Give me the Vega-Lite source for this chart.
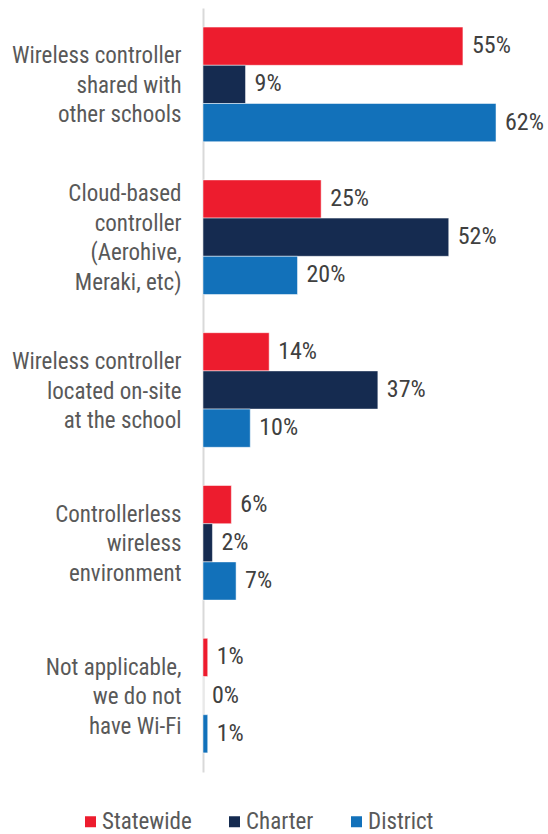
{
  "$schema": "https://vega.github.io/schema/vega-lite/v6.json",
  "autosize": "none",
  "width": 345,
  "height": 764,
  "padding": {"left": 203, "top": 8, "right": 0, "bottom": 62},
  "background": "white",
  "config": {"view": {"stroke": null}, "font": "Roboto Condensed, Roboto"},
  "data": {"values": [
    {"cat": "Wireless controller|shared with|other schools", "series": "Statewide", "value": 55},
    {"cat": "Wireless controller|shared with|other schools", "series": "Charter", "value": 9},
    {"cat": "Wireless controller|shared with|other schools", "series": "District", "value": 62},
    {"cat": "Cloud-based|controller|(Aerohive,|Meraki, etc)", "series": "Statewide", "value": 25},
    {"cat": "Cloud-based|controller|(Aerohive,|Meraki, etc)", "series": "Charter", "value": 52},
    {"cat": "Cloud-based|controller|(Aerohive,|Meraki, etc)", "series": "District", "value": 20},
    {"cat": "Wireless controller|located on-site|at the school", "series": "Statewide", "value": 14},
    {"cat": "Wireless controller|located on-site|at the school", "series": "Charter", "value": 37},
    {"cat": "Wireless controller|located on-site|at the school", "series": "District", "value": 10},
    {"cat": "Controllerless|wireless|environment", "series": "Statewide", "value": 6},
    {"cat": "Controllerless|wireless|environment", "series": "Charter", "value": 2},
    {"cat": "Controllerless|wireless|environment", "series": "District", "value": 7},
    {"cat": "Not applicable,|we do not|have Wi-Fi", "series": "Statewide", "value": 1},
    {"cat": "Not applicable,|we do not|have Wi-Fi", "series": "Charter", "value": 0},
    {"cat": "Not applicable,|we do not|have Wi-Fi", "series": "District", "value": 1}
  ]},
  "transform": [{"calculate": "datum.value + '%'", "as": "label"}],
  "encoding": {
    "y": {
      "field": "cat", "type": "nominal", "sort": null,
      "scale": {"paddingInner": 0.25, "paddingOuter": 0.125},
      "axis": {
        "title": null, "ticks": false, "domainColor": "#d9d9d9", "domainWidth": 2,
        "labelExpr": "split(datum.label, '|')", "labelFontSize": 23, "labelColor": "#595959",
        "labelPadding": 22, "labelLineHeight": 29.5, "labelLimit": 250,
        "labelOffset": {"condition": {"test": "indexof(datum.value, 'Cloud') == 0", "value": -43}, "value": -28}
      }
    },
    "yOffset": {"field": "series", "type": "nominal", "sort": ["Statewide", "Charter", "District"]},
    "x": {"field": "value", "type": "quantitative", "scale": {"domain": [0, 73]}, "axis": null}
  },
  "layer": [
    {
      "mark": {"type": "bar", "stroke": "white", "strokeWidth": 0.5},
      "encoding": {
        "color": {
          "field": "series", "type": "nominal",
          "scale": {"domain": ["Statewide", "Charter", "District"], "range": ["#ED1C2E", "#152B50", "#1271BA"]},
          "legend": {
            "title": null, "orient": "none", "direction": "horizontal",
            "legendX": -124, "legendY": 802, "symbolType": "square", "symbolSize": 121,
            "labelFontSize": 23, "labelColor": "#595959", "columnPadding": 31, "labelOffset": 0, "symbolStrokeWidth": 0
          }
        }
      }
    },
    {
      "mark": {"type": "text", "align": "left", "baseline": "middle", "dx": 9, "fontSize": 24, "color": "#404040", "fontWeight": "normal"},
      "encoding": {"text": {"field": "label", "type": "nominal"}, "x": {"field": "value", "type": "quantitative"}}
    }
  ]
}
